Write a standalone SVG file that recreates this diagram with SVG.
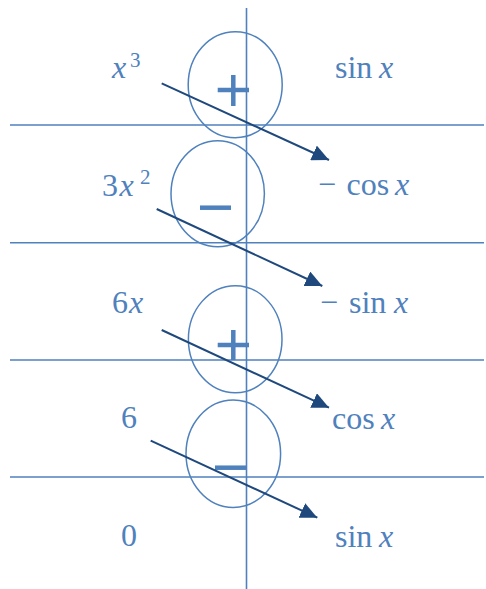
<svg xmlns="http://www.w3.org/2000/svg" width="486" height="589" viewBox="0 0 486 589">
<style>
.grid{stroke:#4F81BD;stroke-width:1.6;fill:none}
.circ{stroke:#4F81BD;stroke-width:1.5;fill:none}
.sign{stroke:#4F81BD;stroke-width:4.5;fill:none}
.arr{stroke:#1F497D;stroke-width:2;fill:none;marker-end:url(#ah)}
text{font-family:"Liberation Serif","DejaVu Serif",serif;font-size:32px;fill:#4F81BD}
.it{font-style:italic}
.sup{font-size:21px}
</style>
<defs>
<marker id="ah" markerUnits="userSpaceOnUse" markerWidth="18" markerHeight="16" refX="17" refY="8" orient="auto">
<path d="M0,0 L17,8 L0,16 z" fill="#1F497D"/>
</marker>
</defs>
<rect width="486" height="589" fill="#fff"/>
<g id="grid">
<line class="grid" x1="246.5" y1="8" x2="246.5" y2="589"/>
<line class="grid" x1="10" y1="125" x2="484" y2="125"/>
<line class="grid" x1="10" y1="242.7" x2="484" y2="242.7"/>
<line class="grid" x1="10" y1="360" x2="484" y2="360"/>
<line class="grid" x1="10" y1="477" x2="484" y2="477"/>
</g>
<g id="sign1"><ellipse class="circ" cx="235.2" cy="84.7" rx="47" ry="53"/><path class="sign" d="M217.7,90 H249 M233.3,75 V106"/></g>
<g id="sign2"><ellipse class="circ" cx="217.7" cy="193.7" rx="46.7" ry="53"/><path class="sign" d="M200,207.7 H231"/></g>
<g id="sign3"><ellipse class="circ" cx="235.2" cy="339.2" rx="46.8" ry="53.5"/><path class="sign" d="M217.7,345 H249 M233.3,330 V360"/></g>
<g id="sign4"><ellipse class="circ" cx="233.3" cy="453.7" rx="47.3" ry="53.7"/><path class="sign" d="M215,467.7 H246"/></g>
<g id="left">
<text id="l1" x="112" y="78"><tspan class="it">x</tspan><tspan class="sup" x="130" y="67">3</tspan></text>
<text id="l2" x="102" y="196">3<tspan class="it" x="119.5">x</tspan><tspan class="sup" x="140" y="184">2</tspan></text>
<text id="l3" x="112" y="313">6<tspan class="it" x="129">x</tspan></text>
<text id="l4" x="121" y="428">6</text>
<text id="l5" x="121" y="546">0</text>
</g>
<g id="right">
<text id="r1" x="335" y="77.5">sin<tspan class="it" x="379">x</tspan></text>
<text id="r2" x="318" y="195">−<tspan x="346.5">cos</tspan><tspan class="it" x="395">x</tspan></text>
<text id="r3" x="320" y="313">−<tspan x="349">sin</tspan><tspan class="it" x="394">x</tspan></text>
<text id="r4" x="332" y="428.5">cos<tspan class="it" x="381">x</tspan></text>
<text id="r5" x="335" y="546.5">sin<tspan class="it" x="379">x</tspan></text>
</g>
<g id="connectors">
<line class="arr" x1="161.7" y1="83.3" x2="329" y2="160"/>
<line class="arr" x1="156.7" y1="209" x2="322.3" y2="286"/>
<line class="arr" x1="161.7" y1="330" x2="329" y2="407.7"/>
<line class="arr" x1="150.7" y1="440.7" x2="317.3" y2="517.7"/>
</g>
</svg>
